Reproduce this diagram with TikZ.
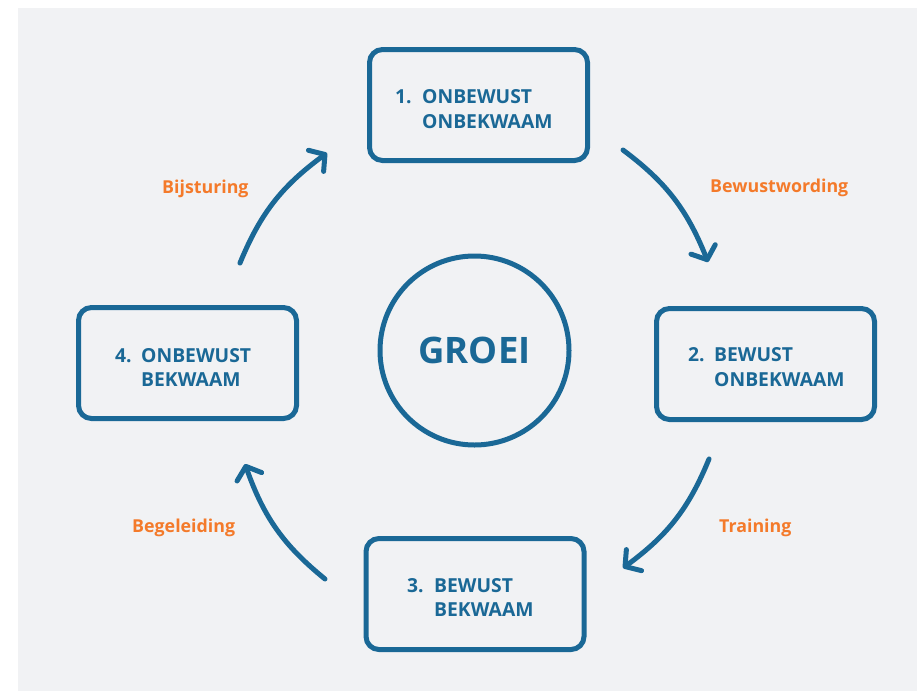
\documentclass[tikz,border=0pt]{standalone}
\usepackage{fontspec}
\setmainfont{Open Sans}
\usetikzlibrary{arrows.meta,bending}
\definecolor{bg}{HTML}{F1F2F4}
\definecolor{myblue}{HTML}{1A6896}
\definecolor{myorange}{HTML}{F47A2A}
\begin{document}
\begin{tikzpicture}[x=1pt,y=1pt,
  stagebox/.style={draw=myblue,line width=5pt,rounded corners=13pt,minimum width=218pt,minimum height=111pt,inner sep=0pt},
  stagetext/.style={text=myblue,font=\bfseries\fontsize{19.3}{24}\selectfont,inner sep=0pt,anchor=base west},
  phase/.style={text=myorange,font=\bfseries\fontsize{17.8}{22}\selectfont,inner sep=0pt,anchor=base west},
  cyc/.style={draw=myblue,line width=5pt,line cap=round,-{Straight Barb[length=11pt,width=26pt,round]},bend left=16}]
\useasboundingbox (0,0) rectangle (917,-691);
\fill[bg] (18,-8) rectangle (917,-691);
% stage boxes
\node[stagebox] (b1) at (478.5,-105) {};
\node[stagebox] (b2) at (765.5,-364) {};
\node[stagebox] (b3) at (475,-594) {};
\node[stagebox] (b4) at (187.5,-363) {};
% box texts
\node[stagetext] (n1) at (395,-103) {1.};
\node[stagetext] (t1a) at (422,-103) {ONBEWUST};
\node[stagetext] (t1b) at (422,-128) {ONBEKWAAM};
\node[stagetext] (n2) at (688,-361) {2.};
\node[stagetext] (t2a) at (714,-361) {BEWUST};
\node[stagetext] (t2b) at (714,-386) {ONBEKWAAM};
\node[stagetext] (n3) at (407,-592) {3.};
\node[stagetext] (t3a) at (434,-592) {BEWUST};
\node[stagetext] (t3b) at (434,-616) {BEKWAAM};
\node[stagetext] (n4) at (115,-362) {4.};
\node[stagetext] (t4a) at (141,-362) {ONBEWUST};
\node[stagetext] (t4b) at (141,-386) {BEKWAAM};
% centre
\node[draw=myblue,line width=5pt,circle,minimum size=189pt,inner sep=0pt,text=myblue,font=\bfseries\fontsize{36.5}{40}\selectfont] (groei) at (474.5,-350.5) {GROEI};
% arrows
\coordinate (a1s) at (623,-150);
\coordinate (a1e) at (708,-262);
\coordinate (a2s) at (709,-459);
\coordinate (a2e) at (623,-568);
\coordinate (a3s) at (325,-579);
\coordinate (a3e) at (245,-464);
\coordinate (a4s) at (240,-263);
\coordinate (a4e) at (327,-153);
\draw[cyc] (a1s) to (a1e);
\draw[cyc] (a2s) to (a2e);
\draw[cyc] (a3s) to (a3e);
\draw[cyc] (a4s) to (a4e);
% phase labels
\node[phase] (l1) at (710,-192) {Bewustwording};
\node[phase] (l2) at (719,-532) {Training};
\node[phase] (l3) at (132,-532) {Begeleiding};
\node[phase] (l4) at (162,-193) {Bijsturing};
\end{tikzpicture}
\end{document}
